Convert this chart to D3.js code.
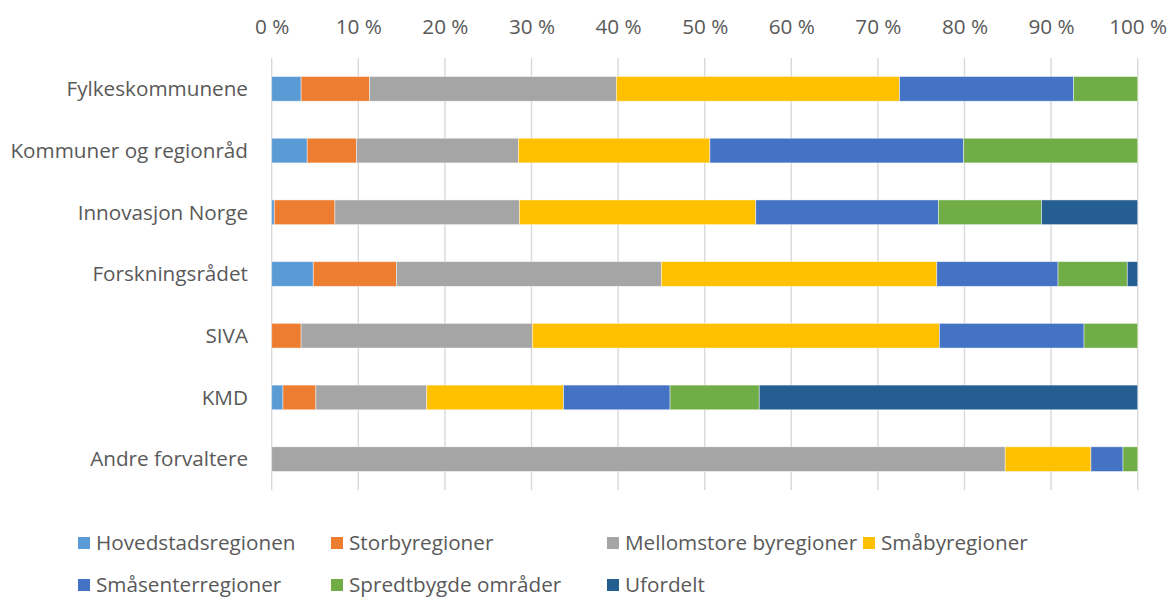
<!DOCTYPE html>
<html lang="no">
<head>
<meta charset="UTF-8">
<title>Fordeling per forvalter</title>
<script src="https://cdn.jsdelivr.net/npm/d3@7"></script>
<style>
  body { margin: 0; background: #fff; }
  svg text { font-family: "Open Sans", Lato, sans-serif; fill: #595959; }
</style>
</head>
<body>
<script>
// Kategorier (forvaltere)
const forvaltere = ["Fylkeskommunene", "Kommuner og regionråd", "Innovasjon Norge",
  "Forskningsrådet", "SIVA", "KMD", "Andre forvaltere"];

// Serier (regiontyper)
const serier = ["Hovedstadsregionen", "Storbyregioner", "Mellomstore byregioner",
  "Småbyregioner", "Småsenterregioner", "Spredtbygde områder", "Ufordelt"];

// Andeler i prosent, en verdi per forvalter
const hovedstad   = [3.4, 4.1, 0.3, 4.8, 0.0, 1.3, 0.0];
const storby      = [7.9, 5.7, 7.0, 9.6, 3.4, 3.8, 0.0];
const mellomstore = [28.5, 18.7, 21.3, 30.6, 26.7, 12.8, 84.7];
const smaaby      = [32.7, 22.1, 27.3, 31.8, 47.0, 15.8, 9.9];
const smaasenter  = [20.1, 29.3, 21.1, 14.0, 16.7, 12.3, 3.7];
const spredtbygd  = [7.4, 20.1, 11.9, 8.0, 6.2, 10.3, 1.7];
const ufordelt    = [0.0, 0.0, 11.1, 1.2, 0.0, 43.7, 0.0];

const tickVerdier = [0, 10, 20, 30, 40, 50, 60, 70, 80, 90, 100];

const farger = ["#5B9BD5", "#ED7D31", "#A5A5A5", "#FFC000", "#4472C4", "#70AD47", "#255E91"];

// tabell for stack
const verdier = [hovedstad, storby, mellomstore, smaaby, smaasenter, spredtbygd, ufordelt];
const tabell = forvaltere.map(function (f, i) {
  let rad = { forvalter: f };
  serier.forEach(function (s, j) { rad[s] = verdier[j][i]; });
  return rad;
});

let W = 1170, H = 597;
let venstre = 271.7, hoyre = 1137.7, topp = 58, bunn = 490;
let fontStr = "20.7px";

let svg = d3.select("body").append("svg")
  .attr("width", W)
  .attr("height", H);

let x = d3.scaleLinear().domain([0, 100]).range([venstre, hoyre]);
let y = d3.scaleBand().domain(forvaltere).range([topp, bunn]).paddingInner(0.6).paddingOuter(0.3);

// Hjelpelinjer
svg.append("g")
  .selectAll("line")
  .data(tickVerdier)
  .enter()
  .append("line")
  .attr("x1", d => x(d))
  .attr("x2", d => x(d))
  .attr("y1", topp)
  .attr("y2", bunn)
  .attr("stroke", "#D9D9D9")
  .attr("stroke-width", 1.4);

// Akse oppe
let akse = svg.append("g")
  .attr("transform", "translate(0," + 34 + ")")
  .call(d3.axisTop(x).tickValues(tickVerdier).tickSize(0).tickPadding(0).tickFormat(d => d + " %"));
akse.select(".domain").remove();
akse.selectAll("text").attr("font-size", fontStr).attr("dy", 0).attr("fill", "#595959")
  .style("font-family", "'Open Sans', Lato, sans-serif");

// Stablede søyler
let stack = d3.stack().keys(serier)(tabell);

svg.append("g")
  .selectAll("g")
  .data(stack)
  .enter()
  .append("g")
  .attr("fill", (d, i) => farger[i])
  .selectAll("rect")
  .data(d => d)
  .enter()
  .append("rect")
  .attr("x", d => x(d[0]))
  .attr("width", d => x(d[1]) - x(d[0]))
  .attr("y", d => y(d.data.forvalter))
  .attr("height", y.bandwidth())
  .attr("stroke", d => (d[1] - d[0]) > 0 ? "#fff" : "none")
  .attr("stroke-opacity", 0.55)
  .attr("stroke-width", 0.8);

// Kategorinavn
svg.append("g")
  .selectAll("text")
  .data(forvaltere)
  .enter()
  .append("text")
  .attr("x", 248)
  .attr("y", d => y(d) + y.bandwidth() / 2)
  .attr("dy", "0.35em")
  .attr("text-anchor", "end")
  .attr("font-size", fontStr)
  .text(d => d);

// Forklaring
let legendPos = [
  { x: 78, y: 543 }, { x: 331, y: 543 }, { x: 607, y: 543 }, { x: 863, y: 543 },
  { x: 78, y: 585 }, { x: 331, y: 585 }, { x: 607, y: 585 }
];

let legend = svg.append("g")
  .selectAll("g")
  .data(serier)
  .enter()
  .append("g")
  .attr("transform", (d, i) => "translate(" + legendPos[i].x + "," + legendPos[i].y + ")");

legend.append("rect")
  .attr("x", 0)
  .attr("y", -6)
  .attr("width", 12)
  .attr("height", 12)
  .attr("fill", (d, i) => farger[i]);

legend.append("text")
  .attr("x", 18)
  .attr("y", 0)
  .attr("dy", "0.35em")
  .attr("font-size", fontStr)
  .text(d => d);
</script>
</body>
</html>
